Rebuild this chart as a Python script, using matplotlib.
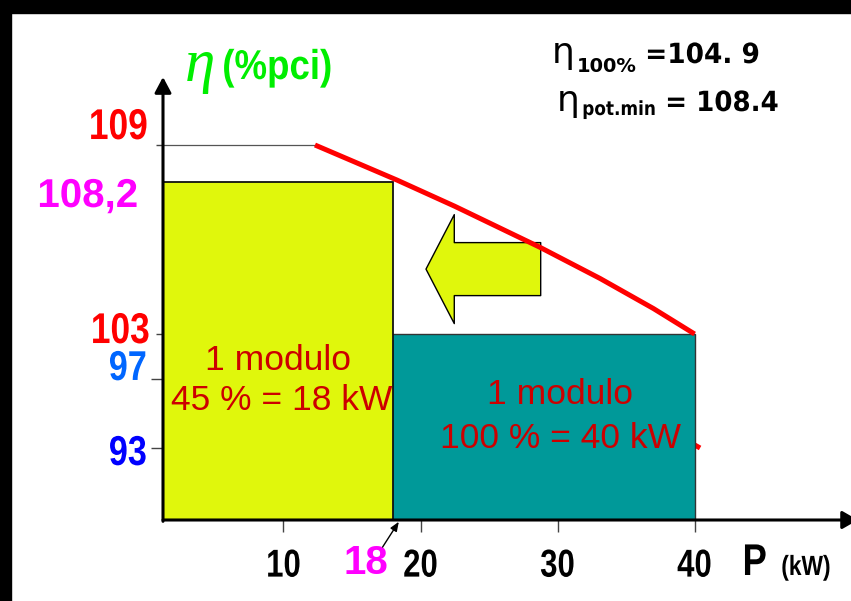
import numpy as np
import matplotlib
matplotlib.use("Agg")
import matplotlib.pyplot as plt
from matplotlib.patches import Rectangle
from matplotlib.path import Path
from matplotlib.patheffects import AbstractPathEffect
from matplotlib.transforms import Affine2D

# ---------------------------------------------------------------- data
# module operating points: power (kW) and efficiency (% pci)
module_power = [18, 40]
module_eta = [108.2, 103]
module_colors = ["#e0f70c", "#009999"]
module_text = [("1 modulo", "45 % = 18 kW"), ("1 modulo", "100 % = 40 kW")]

# efficiency curve vs power
curve_power = [12.3, 18.3, 22.5, 28.7, 33.1, 37.0, 40.0]
curve_eta = [109.0, 108.24, 107.37, 105.97, 104.90, 103.87, 103.0]

# tail of a second curve passing behind the 40 kW block
curve2_power = [33.0, 40.4]
curve2_eta = [96.3, 93.0]

x_ticks = [10, 20, 30, 40]
x_ticklabels = ["10", "20", "30", "40"]

y_marks = [109, 108.2, 103, 97, 93]
y_marklabels = ["109", "108,2", "103", "97", "93"]
y_markcolors = ["#ff0000", "#ff00ff", "#ff0000", "#0066ff", "#0000ff"]

# schematic (non-uniform) ordinate: value -> height in pixels above the axis
y_break_values = [90, 93, 97, 103, 108.2, 109, 111]
y_break_heights = [0, 72, 141, 186, 338, 375, 443]

# ---------------------------------------------------------------- helpers
W, H = 851, 601
SANS = ["Liberation Sans", "DejaVu Sans"]
DV = ["DejaVu Sans"]


class SqueezeX(AbstractPathEffect):
    """Horizontally condense a text's glyphs about its left/center/right edge."""

    def __init__(self, sx, anchor="center"):
        super().__init__()
        self.sx = sx
        self.anchor = anchor

    def draw_path(self, renderer, gc, tpath, affine, rgbFace=None):
        verts = tpath.vertices
        if tpath.codes is not None:
            verts = verts[tpath.codes != Path.CLOSEPOLY]
        if len(verts):
            pts = affine.transform(verts)
            xmin, xmax = pts[:, 0].min(), pts[:, 0].max()
            x_a = {"left": xmin, "center": 0.5 * (xmin + xmax), "right": xmax}[self.anchor]
            affine = affine + Affine2D().translate(-x_a, 0).scale(self.sx, 1).translate(x_a, 0)
        renderer.draw_path(gc, tpath, affine, rgbFace)


def narrow(sx=0.8, anchor="center"):
    return [SqueezeX(sx, anchor)]


def fx(px):
    return px / W


def fy(py):
    return 1 - py / H


def _piecewise(v, xs, ys):
    v = np.asarray(v, dtype=float)
    flat = np.atleast_1d(v).astype(float)
    out = np.interp(flat, xs, ys)
    lo = flat < xs[0]
    hi = flat > xs[-1]
    out[lo] = ys[0] + (flat[lo] - xs[0]) * (ys[1] - ys[0]) / (xs[1] - xs[0])
    out[hi] = ys[-1] + (flat[hi] - xs[-1]) * (ys[-1] - ys[-2]) / (xs[-1] - xs[-2])
    return out.reshape(v.shape)


def y_forward(v):
    return _piecewise(v, y_break_values, y_break_heights)


def y_inverse(h):
    return _piecewise(h, y_break_heights, y_break_values)


# ---------------------------------------------------------------- figure
fig = plt.figure(figsize=(W / 100, H / 100), dpi=100)
fig.patch.set_facecolor("white")

# slide frame
fig.add_artist(Rectangle((0, fy(13)), 1, 13 / H, transform=fig.transFigure,
                         color="black", zorder=0))
fig.add_artist(Rectangle((0, 0), 11 / W, 1, transform=fig.transFigure,
                         color="black", zorder=0))

ax = fig.add_axes([fx(163), fy(520), (W - 163) / W, (520 - 77) / H])
ax.set_facecolor("none")
ax.set_yscale("function", functions=(y_forward, y_inverse))

x0 = (163 - 146.4) / 13.705
x1 = (W - 146.4) / 13.705
ax.set_xlim(x0, x1)
ax.set_ylim(y_break_values[0], y_break_values[-1])
base = y_break_values[0]

for s in ax.spines.values():
    s.set_visible(False)

# blocks (larger one first, the 18 kW block on top)
for i in [1, 0]:
    ax.bar(x0, module_eta[i] - base, width=module_power[i] - x0, bottom=base,
           align="edge", color=module_colors[i],
           edgecolor="#111111" if i == 0 else "#333333",
           linewidth=1.3 if i == 0 else 1.0, zorder=2 + (1 - i))

# curves
ax.plot(curve2_power, curve2_eta, color="#ff0000", lw=3.6, zorder=1.5,
        solid_capstyle="butt")
ax.plot(curve_power, curve_eta, color="#ff0000", lw=3.6, zorder=5,
        solid_capstyle="butt", solid_joinstyle="round")

# thin reference line at the top value
ax.plot([x0, curve_power[0]], [curve_eta[0], curve_eta[0]],
        color="#555555", lw=0.9, zorder=1)

# load-reduction arrow
ax.annotate("", xy=(20.4, 105.22), xytext=(28.77, 105.22),
            arrowprops=dict(arrowstyle="simple,head_length=0.283,head_width=1.09,tail_width=0.53",
                            mutation_scale=72, fc="#e0f70c", ec="black", lw=1.0,
                            shrinkA=0, shrinkB=0),
            zorder=4)

# axes with arrow heads
ax.annotate("", xy=(0, 1), xytext=(0, -0.003), xycoords="axes fraction",
            arrowprops=dict(arrowstyle="-|>,head_length=0.47,head_width=0.25",
                            mutation_scale=20, lw=2.2, color="black",
                            shrinkA=0, shrinkB=0), zorder=6)
ax.annotate("", xy=(1.01, 0), xytext=(0, 0), xycoords="axes fraction",
            arrowprops=dict(arrowstyle="-|>,head_length=0.47,head_width=0.27",
                            mutation_scale=20, lw=2.2, color="black",
                            shrinkA=0, shrinkB=0), zorder=6)

# ticks
ax.set_xticks(x_ticks)
ax.set_xticklabels(x_ticklabels, fontfamily=SANS, fontweight="bold", fontsize=28,
                   path_effects=narrow(0.8, "center"))
ax.tick_params(axis="x", length=8.6, width=1.0, color="#444444", pad=12)
ax.set_yticks([109, 103])
ax.set_yticks([97, 93], minor=True)
ax.tick_params(axis="y", which="major", length=5, width=1.0, color="#444444",
               labelleft=False)
ax.tick_params(axis="y", which="minor", length=9, width=1.0, color="#444444",
               labelleft=False)

# ordinate value labels (offsets in points from the axis at each value)
label_offsets = [(-10.8, 4.3), (-18.0, -18.0), (-9.4, -6.5), (-11.5, -0.7), (-11.5, -12.2)]
label_sizes = [31, 29, 31, 30, 30]
label_squeeze = [0.82, 1.0, 0.82, 0.82, 0.82]
for v, lab, col, off, sz, sq in zip(y_marks, y_marklabels, y_markcolors,
                                    label_offsets, label_sizes, label_squeeze):
    ax.annotate(lab, xy=(0, v), xycoords=("axes fraction", "data"),
                xytext=off, textcoords="offset points", ha="right", va="baseline",
                color=col, fontfamily=SANS, fontweight="bold", fontsize=sz,
                annotation_clip=False, path_effects=narrow(sq, "right"))

# 18 kW marker on the power axis, with a small pointer to the block corner
ax.annotate("18", xy=(module_power[0], base), xytext=(-19.5, -38.9),
            textcoords="offset points", ha="center", va="baseline",
            color="#ff00ff", fontfamily=SANS, fontweight="bold", fontsize=29,
            annotation_clip=False)
ax.annotate("", xy=(18.5, base), xytext=(-12.5, -19.5),
            textcoords="offset points", annotation_clip=False,
            arrowprops=dict(arrowstyle="-|>,head_length=0.55,head_width=0.22",
                            mutation_scale=10, lw=1.0, color="black",
                            shrinkA=0, shrinkB=1.5))

# block captions
box_color = "#cc0000"
fig.text(fx(278), fy(360), module_text[0][0], ha="center", va="center",
         color=box_color, fontfamily=SANS, fontsize=25.5)
fig.text(fx(282), fy(401), module_text[0][1], ha="center", va="center",
         color=box_color, fontfamily=SANS, fontsize=25.5)
fig.text(fx(560), fy(395), module_text[1][0], ha="center", va="center",
         color=box_color, fontfamily=SANS, fontsize=25.5)
fig.text(fx(560), fy(438), module_text[1][1], ha="center", va="center",
         color=box_color, fontfamily=SANS, fontsize=25.5)

# axis titles
green = "#00ee00"
fig.text(fx(185), fy(81), "\u03b7", ha="left", va="baseline", color=green,
         fontfamily=["Liberation Serif", "DejaVu Serif"], fontstyle="italic",
         fontsize=44)
fig.text(fx(222), fy(79), "(%pci)", ha="left", va="baseline", color=green,
         fontfamily=SANS, fontweight="bold", fontsize=30,
         path_effects=narrow(0.88, "left"))
fig.text(fx(742), fy(575), "P", ha="left", va="baseline", color="black",
         fontfamily=SANS, fontweight="bold", fontsize=32,
         path_effects=narrow(0.82, "left"))
fig.text(fx(781), fy(575), "(kW)", ha="left", va="baseline", color="black",
         fontfamily=SANS, fontweight="bold", fontsize=20,
         path_effects=narrow(0.82, "left"))

# efficiency summary
fig.text(fx(552), fy(63), "\u03b7", ha="left", va="baseline", fontfamily=DV,
         fontsize=26)
fig.text(fx(577), fy(72), "100%", ha="left", va="baseline", fontfamily=DV,
         fontweight="bold", fontsize=14)
fig.text(fx(645), fy(63), "=104. 9", ha="left", va="baseline", fontfamily=DV,
         fontweight="bold", fontsize=20, path_effects=narrow(0.95, "left"))
fig.text(fx(557), fy(111), "\u03b7", ha="left", va="baseline", fontfamily=DV,
         fontsize=26)
fig.text(fx(582), fy(115), "pot.min", ha="left", va="baseline", fontfamily=DV,
         fontweight="bold", fontsize=14, path_effects=narrow(0.87, "left"))
fig.text(fx(665), fy(111), "= 108.4", ha="left", va="baseline", fontfamily=DV,
         fontweight="bold", fontsize=20, path_effects=narrow(0.94, "left"))

fig.savefig("out.png", dpi=100)
